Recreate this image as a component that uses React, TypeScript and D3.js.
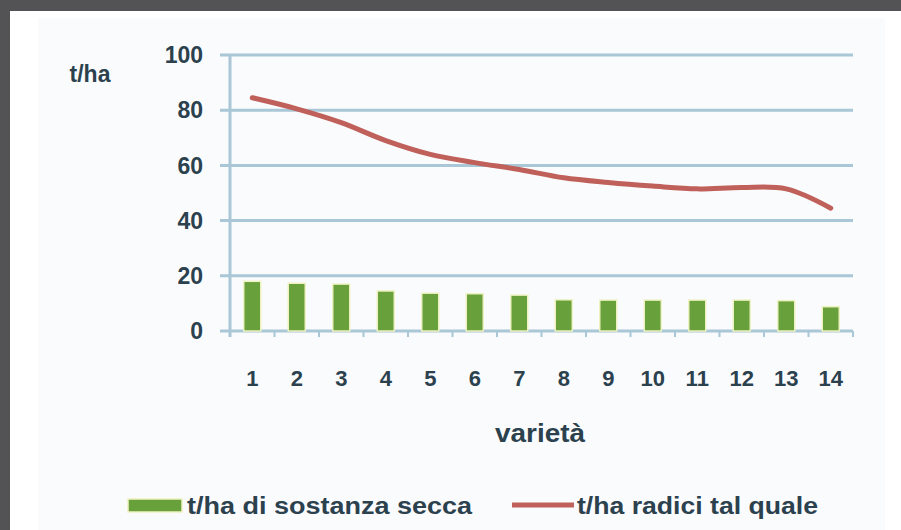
import React from "react";
import * as d3 from "d3";

const categories = ["1", "2", "3", "4", "5", "6", "7", "8", "9", "10", "11", "12", "13", "14"];
const secca = [18, 17.3, 17, 14.5, 13.7, 13.5, 13, 11.3, 11.2, 11.2, 11.2, 11.2, 11, 8.8];
const radici = [84.5, 80.5, 75.5, 69, 64, 61, 58.5, 55.5, 53.8, 52.5, 51.5, 52, 51.5, 44.5];
const yTicks = [0, 20, 40, 60, 80, 100];
const seriesNames = ["t/ha di sostanza secca", "t/ha radici tal quale"];
const yTitle = "t/ha";
const xTitle = "varietà";

const W = 901;
const H = 530;
const plot = { left: 230, right: 853, top: 55, bottom: 331 };

export default function App() {
  const x = d3.scaleBand<string>().domain(categories).range([plot.left, plot.right]).padding(0);
  const y = d3.scaleLinear().domain([0, 100]).range([plot.bottom, plot.top]);
  const bw = 17;
  const line = d3
    .line<number>()
    .x((_, i) => (x(categories[i]) as number) + x.bandwidth() / 2)
    .y((d) => y(d))
    .curve(d3.curveCatmullRom.alpha(0.5));

  const gridColor = "#a9c7d6";
  const textColor = "#2c414e";
  const green = "#68a03c";
  const red = "#c0605a";
  const font = "'Liberation Sans', Arial, sans-serif";

  return (
    <svg
      width={W}
      height={H}
      style={{ position: "absolute", left: 0, top: 0, display: "block" }}
      fontFamily={font}
    >
      <rect x={0} y={0} width={W} height={H} fill="#535355" />
      <rect x={10} y={11} width={W - 10} height={H - 11} fill="#ffffff" />
      <rect x={38} y={18} width={847} height={H - 18} fill="#fafbfd" />

      {/* gridlines */}
      {yTicks.map((t) => (
        <g key={t}>
          <line x1={plot.left - 10} x2={plot.right} y1={y(t)} y2={y(t)} stroke={gridColor} strokeWidth={3} />
          <text
            x={203}
            y={y(t)}
            dy="0.36em"
            textAnchor="end"
            fontSize={23}
            fontWeight="bold"
            fill={textColor}
          >
            {t}
          </text>
        </g>
      ))}
      <line x1={plot.left} x2={plot.left} y1={plot.top} y2={plot.bottom + 6} stroke={gridColor} strokeWidth={3} />
      {categories.map((c) => (
        <line
          key={"tk" + c}
          x1={(x(c) as number) + x.bandwidth()}
          x2={(x(c) as number) + x.bandwidth()}
          y1={plot.bottom}
          y2={plot.bottom + 6}
          stroke={gridColor}
          strokeWidth={2}
        />
      ))}

      {/* bars */}
      {secca.map((v, i) => (
        <rect
          key={"b" + i}
          x={(x(categories[i]) as number) + x.bandwidth() / 2 - bw / 2}
          y={y(v)}
          width={bw}
          height={y(0) - y(v)}
          fill={green}
          stroke="#eef2c0"
          strokeWidth={1.5}
        />
      ))}

      {/* line */}
      <path d={line(radici) || ""} fill="none" stroke={red} strokeWidth={5} strokeLinecap="round" />

      {/* x labels */}
      {categories.map((c) => (
        <text
          key={"xl" + c}
          x={(x(c) as number) + x.bandwidth() / 2}
          y={378}
          dy="0.36em"
          textAnchor="middle"
          fontSize={22}
          fontWeight="bold"
          fill={textColor}
        >
          {c}
        </text>
      ))}

      <text x={90} y={74} dy="0.36em" textAnchor="middle" fontSize={23} fontWeight="bold" fill={textColor}>
        {yTitle}
      </text>
      <text
        x={495}
        y={433}
        dy="0.36em"
        fontSize={25}
        fontWeight="bold"
        fill={textColor}
        textLength={90}
        lengthAdjust="spacingAndGlyphs"
      >
        {xTitle}
      </text>

      {/* legend */}
      <rect x={128} y={499} width={54} height={13} fill={green} stroke="#eef2c0" strokeWidth={1.5} />
      <text
        x={187}
        y={506}
        dy="0.36em"
        fontSize={23}
        fontWeight="bold"
        fill={textColor}
        textLength={285}
        lengthAdjust="spacingAndGlyphs"
      >
        {seriesNames[0]}
      </text>
      <line x1={512} x2={574} y1={505} y2={505} stroke={red} strokeWidth={5} />
      <text
        x={577}
        y={506}
        dy="0.36em"
        fontSize={23}
        fontWeight="bold"
        fill={textColor}
        textLength={241}
        lengthAdjust="spacingAndGlyphs"
      >
        {seriesNames[1]}
      </text>
    </svg>
  );
}
